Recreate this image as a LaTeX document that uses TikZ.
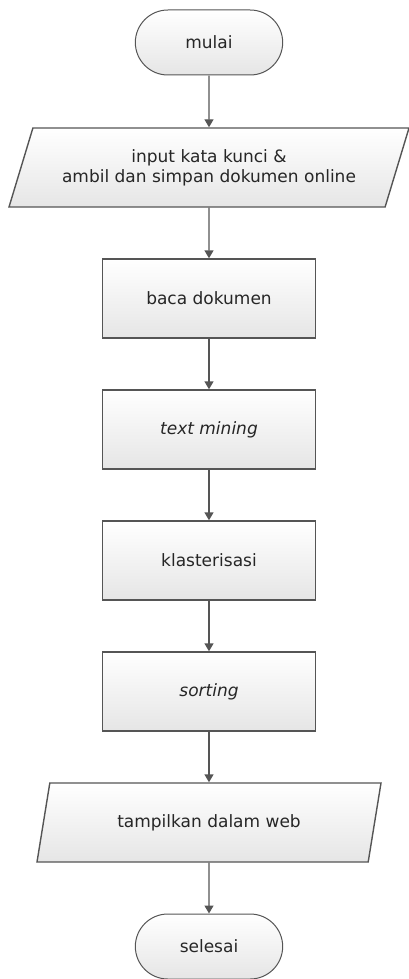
\documentclass[tikz,border=0pt]{standalone}
\usepackage{fontspec}
\setmainfont{DejaVu Sans}
\usetikzlibrary{shapes.geometric,shapes.misc,arrows.meta}
\definecolor{garis}{HTML}{555555}
\definecolor{teks}{HTML}{262626}

\begin{document}
\begin{tikzpicture}[x=1pt,y=1pt,
	every node/.style={font=\fontsize{17}{20}\selectfont, text=teks, align=center},
	isi/.style={top color=white, bottom color=black!10},
	terminal/.style={isi, draw=garis, line width=1pt, rounded rectangle, minimum width=154pt, minimum height=65pt},
	proses/.style={isi, draw=garis, line width=1.4pt, rectangle, minimum width=213pt, minimum height=79pt},
	io/.style={isi, draw=garis, line width=1.4pt, trapezium, trapezium left angle=61, trapezium right angle=119, trapezium stretches body, minimum height=79pt},
	panah/.style={draw=garis, line width=1.4pt, -{Triangle[length=8pt,width=9pt]}}]
\useasboundingbox (0,0) rectangle (409,-979);
\node[terminal] (mulai) at (209,-42.5) {mulai};
\node[io, minimum width=400pt] (masuk) at (209,-167.5) {input kata kunci \&\\ambil dan simpan dokumen online};
\node[proses] (baca) at (209,-298.5) {baca dokumen};
\node[proses] (mining) at (209,-429.5) {\itshape text mining};
\node[proses] (klaster) at (209,-560.5) {klasterisasi};
\node[proses] (urut) at (209,-691.5) {\itshape sorting};
\node[io, minimum width=344pt] (tampil) at (209,-822.5) {tampilkan dalam web};
\node[terminal] (selesai) at (209,-946.5) {selesai};
\foreach \a/\b in {mulai/masuk, masuk/baca, baca/mining, mining/klaster, klaster/urut, urut/tampil, tampil/selesai} {
	\draw[panah] (\a) -- (\b);
	};
\end{tikzpicture}
\end{document}
